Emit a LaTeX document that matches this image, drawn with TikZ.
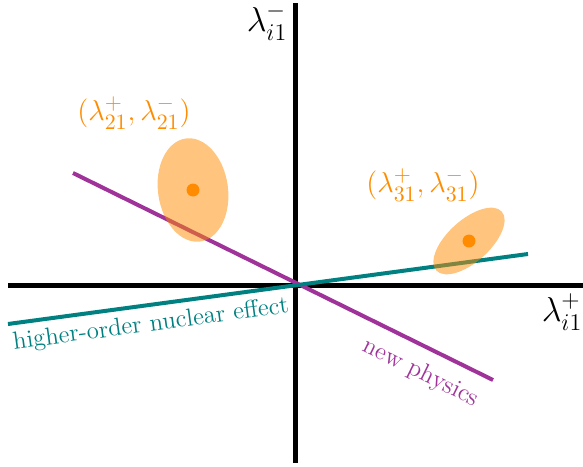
\documentclass[tikz,border=0pt]{standalone}
\usepackage{amsmath,amssymb}
\usetikzlibrary{calc}
\definecolor{physpurple}{HTML}{A0339A}
\definecolor{nucteal}{HTML}{008080}
\definecolor{dataorange}{HTML}{FF8C00}

\begin{document}
\begin{tikzpicture}[x=0.5pt, y=-0.5pt,
    axisline/.style={black, line width=2.5pt},
    fitline/.style={line width=2pt},
    region/.style={fill=dataorange, opacity=0.5},
    isodot/.style={fill=dataorange},
    pairlabel/.style={text=dataorange, font=\fontsize{15}{18}\selectfont},
    axislabel/.style={font=\fontsize{17.5}{20}\selectfont},
    linelabel/.style={font=\fontsize{12.4}{15}\selectfont, sloped, below}]

  \useasboundingbox (0,0) rectangle (583,466);

  % Axes
  \coordinate (O) at (295,285);
  \draw[axisline] (8,285) -- (583,285);
  \draw[axisline] (295,3) -- (295,463);
  \node[axislabel] (xlab) at (562,312) {$\lambda^+_{i1}$};
  \node[axislabel] (ylab) at (267,22) {$\lambda^-_{i1}$};

  % Fitted directions
  \coordinate (np1) at (73,173);
  \coordinate (np2) at (493,380);
  \coordinate (ho1) at (8,324);
  \coordinate (ho2) at (528,254);
  \draw[fitline, physpurple] (np1) -- (np2)
    node[linelabel, pos=0.855, text=physpurple, yshift=-3pt] (nplab) {new physics};
  \draw[fitline, nucteal] (ho1) -- (ho2)
    node[linelabel, pos=0.27, text=nucteal] (holab) {higher-order nuclear effect};

  % Isotope pairs
  \fill[region, rotate around={8:(193,190)}] (193,190) ellipse (35 and 52);
  \fill[region, rotate around={42:(469,241)}] (469,241) ellipse (44 and 21);
  \fill[isodot] (193,190) circle (6.5);
  \fill[isodot] (469,241) circle (6.5);
  \node[pairlabel] (p21) at (134,113) {$(\lambda^+_{21}, \lambda^-_{21})$};
  \node[pairlabel] (p31) at (423,185) {$(\lambda^+_{31}, \lambda^-_{31})$};

\end{tikzpicture}
\end{document}
